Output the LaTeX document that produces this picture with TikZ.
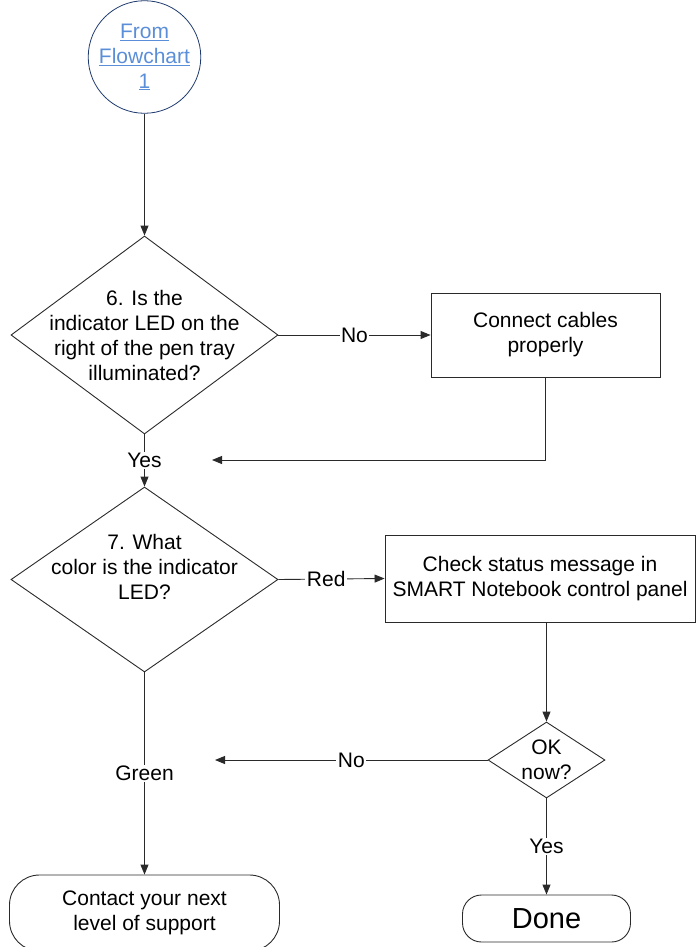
\documentclass[tikz,border=0pt]{standalone}
\usepackage{fontspec}
\setmainfont{Liberation Sans}
\usetikzlibrary{shapes.geometric,arrows.meta}
\definecolor{navy}{HTML}{1F3A6E}
\definecolor{linkblue}{HTML}{5B8ED8}
\definecolor{ln}{HTML}{2A2A2A}
\tikzset{
  ln/.style={draw=ln,line width=0.9pt},
  arr/.style={ln,-{Triangle[length=10pt,width=8pt]}},
  dia/.style={ln,shape=diamond,inner sep=0pt,aspect=1},
  txt/.style={align=center,font=\fontsize{21}{25}\selectfont,inner sep=0pt},
  boxn/.style={ln,rectangle,align=center,font=\fontsize{21}{25}\selectfont,inner sep=0pt},
  lbl/.style={fill=white,font=\fontsize{21}{24}\selectfont,inner sep=1.5pt}
}
\begin{document}
\begin{tikzpicture}[x=1pt,y=-1pt]
\useasboundingbox (0,0) rectangle (700,947);
\node[draw=navy,line width=0.8pt,circle,minimum size=112pt,inner sep=0pt,
      align=center,text=linkblue,font=\fontsize{21}{25}\selectfont] (start) at (144.5,57)
  {\underline{From}\\\underline{Flowchart}\\\underline{1}};
\node[dia,minimum width=267pt,minimum height=198pt] (d6) at (144.5,335) {};
\node[txt] (d6t) at (144.5,335) {6. Is the\\indicator LED on the\\right of the pen tray\\illuminated?};
\node[boxn,minimum width=229pt,minimum height=84pt] (b1) at (545.5,335) {Connect cables\\properly};
\node[dia,minimum width=267pt,minimum height=185pt] (d7) at (144.5,579.5) {};
\node[txt] (d7t) at (144.5,567) {7. What\\color is the indicator\\LED?};
\node[boxn,minimum width=310pt,minimum height=87pt] (b2) at (540,578.5) {Check status message in\\SMART Notebook control panel};
\node[dia,minimum width=117pt,minimum height=76pt] (ok) at (546.5,760) {};
\node[txt] (okt) at (546.5,760) {OK\\now?};
\node[ln,rectangle,rounded corners=30pt,minimum width=270pt,minimum height=76pt,
      align=center,font=\fontsize{21}{25}\selectfont,inner sep=0pt] (contact) at (144.5,913)
  {Contact your next\\level of support};
\node[ln,rectangle,rounded corners=19pt,minimum width=168pt,minimum height=47pt,
      font=\fontsize{29}{32}\selectfont,inner sep=0pt] (done) at (546.5,918.5) {Done};
\coordinate (ret1) at (212,460);
\coordinate (ret2) at (215,760);
\draw[arr] (start) -- (d6.north);
\draw[arr] (d6.east) -- node[lbl] {No} (b1.west);
\draw[arr] (b1.south) |- (ret1);
\draw[arr] (d6.south) -- node[lbl] {Yes} (d7.north);
\draw[arr] (d7.east) -- node[lbl,pos=0.45] {Red} (b2.west);
\draw[arr] (b2.south -| ok.north) -- (ok.north);
\draw[arr] (ok.west) -- node[lbl] {No} (ret2);
\draw[arr] (ok.south) -- node[lbl] {Yes} (done.north);
\draw[arr] (d7.south) -- node[lbl] {Green} (contact.north);
\end{tikzpicture}
\end{document}
